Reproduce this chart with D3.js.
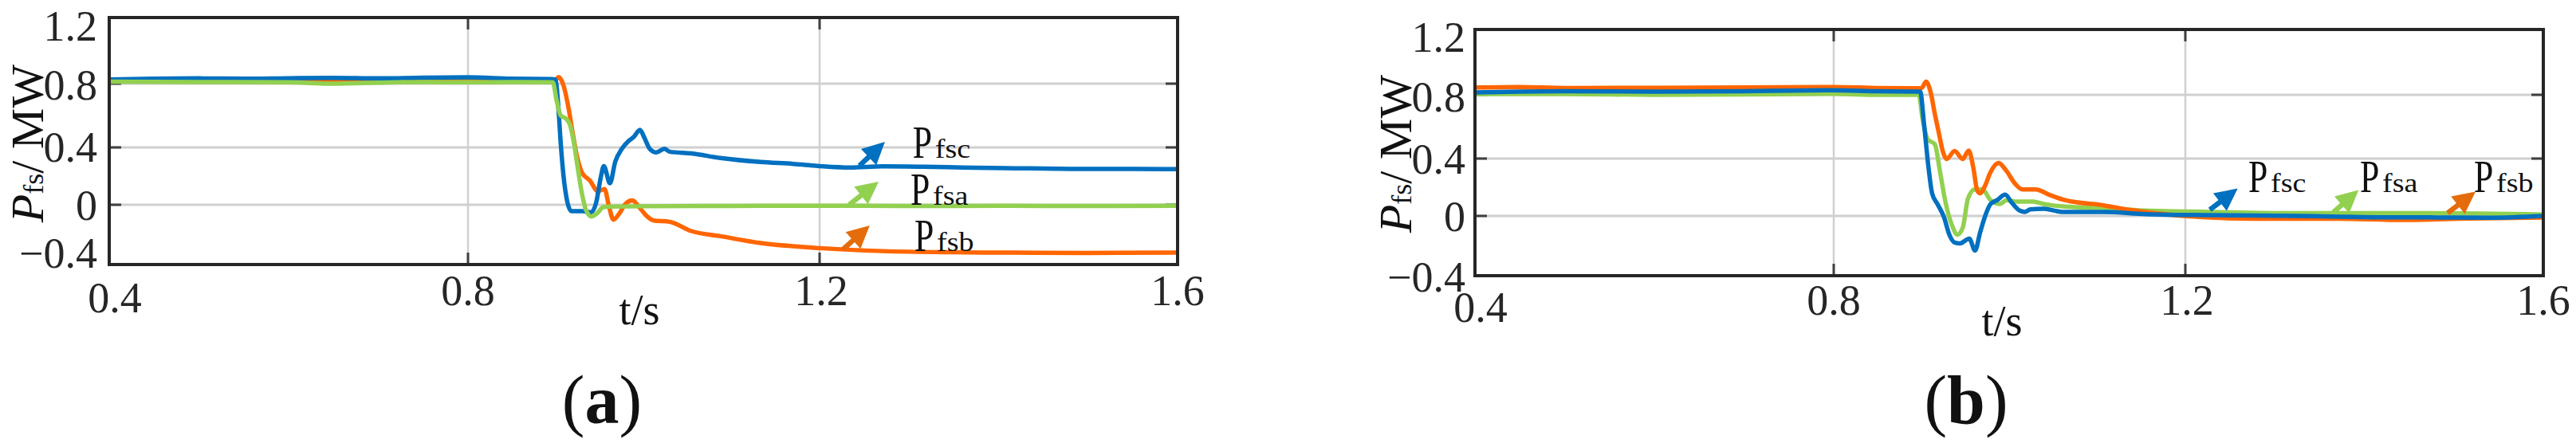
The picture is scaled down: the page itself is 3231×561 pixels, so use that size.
<!DOCTYPE html>
<html><head><meta charset="utf-8">
<script src="https://cdn.jsdelivr.net/npm/d3@7"></script>
<style>body{margin:0;background:#fff}svg{display:block}</style>
</head><body><svg id="c" width="3231" height="561" font-family="'Liberation Serif', 'Times New Roman', 'DejaVu Serif', serif"></svg>
<script>
// ---------- data ----------
const xTicks = [0.4, 0.8, 1.2, 1.6];
const xTickLabels = ["0.4", "0.8", "1.2", "1.6"];
const yTicks = [-0.4, 0, 0.4, 0.8, 1.2];
const yTickLabels = ["\u22120.4", "0", "0.4", "0.8", "1.2"];
const seriesNames = ["fsa", "fsb", "fsc"];
const xTitle = "t/s";
const panelNames = ["a", "b"];

// panel (a) series: [t (s), P (MW)]
const a_fsc = [[0.40,0.825],[0.45,0.83],[0.50,0.832],[0.55,0.83],[0.60,0.833],[0.65,0.835],[0.70,0.832],[0.75,0.836],[0.80,0.838],[0.85,0.83],[0.895,0.828],[0.8995,0.825],[0.9025,0.675],[0.9055,0.425],[0.9086,0.205],[0.913,0.02],[0.9176,-0.043],[0.93,-0.043],[0.94,-0.05],[0.946,0.02],[0.951,0.19],[0.9545,0.27],[0.9615,0.15],[0.9675,0.30],[0.975,0.39],[0.9826,0.44],[0.9887,0.466],[0.9956,0.51],[1.0007,0.46],[1.0068,0.39],[1.0143,0.365],[1.0234,0.39],[1.0295,0.37],[1.054,0.358],[1.087,0.326],[1.133,0.298],[1.17,0.285],[1.2,0.27],[1.234,0.26],[1.27,0.268],[1.316,0.265],[1.36,0.26],[1.407,0.255],[1.45,0.253],[1.5,0.25],[1.55,0.25],[1.6,0.248]];
const a_fsb = [[0.40,0.82],[0.5,0.82],[0.6,0.818],[0.7,0.815],[0.8,0.82],[0.85,0.818],[0.899,0.82],[0.9031,0.84],[0.9086,0.79],[0.9146,0.64],[0.9191,0.49],[0.9236,0.35],[0.9297,0.224],[0.9388,0.168],[0.9478,0.094],[0.9554,0.11],[0.96,0.0],[0.9654,-0.1],[0.972,-0.06],[0.9796,0.01],[0.9871,0.03],[0.9947,-0.016],[1.0038,-0.078],[1.0113,-0.105],[1.0295,-0.114],[1.054,-0.176],[1.087,-0.21],[1.133,-0.256],[1.2,-0.29],[1.27,-0.31],[1.35,-0.318],[1.407,-0.32],[1.5,-0.322],[1.6,-0.32]];
const a_fsa = [[0.40,0.812],[0.5,0.81],[0.6,0.808],[0.65,0.80],[0.7,0.806],[0.75,0.81],[0.8,0.808],[0.85,0.81],[0.8964,0.808],[0.901,0.69],[0.9055,0.6],[0.9116,0.58],[0.9161,0.54],[0.9206,0.425],[0.9252,0.243],[0.9297,0.076],[0.9342,-0.035],[0.9403,-0.078],[0.9463,-0.06],[0.9539,-0.016],[0.963,-0.012],[1.0,-0.01],[1.1,-0.008],[1.2,-0.006],[1.3,-0.008],[1.4,-0.007],[1.5,-0.008],[1.6,-0.006]];

// panel (b) series
const b_fsc = [[0.40,0.815],[0.45,0.82],[0.5,0.822],[0.6,0.82],[0.7,0.822],[0.75,0.826],[0.8,0.828],[0.85,0.822],[0.8983,0.82],[0.9028,0.613],[0.9074,0.36],[0.9119,0.158],[0.918,0.083],[0.9255,-0.009],[0.9315,-0.125],[0.9376,-0.178],[0.9436,-0.184],[0.9542,-0.152],[0.9608,-0.232],[0.9663,-0.116],[0.9723,0],[0.9784,0.083],[0.9859,0.11],[0.995,0.148],[1.0026,0.092],[1.0116,0.037],[1.0177,0.028],[1.0238,0.046],[1.0388,0.05],[1.051,0.037],[1.06,0.028],[1.107,0.028],[1.155,0.013],[1.227,0.005],[1.323,0.0],[1.419,-0.009],[1.48,-0.01],[1.54,-0.012],[1.6,0.0]];
const b_fsb = [[0.40,0.845],[0.45,0.848],[0.5,0.842],[0.6,0.843],[0.7,0.845],[0.8,0.848],[0.85,0.842],[0.8998,0.84],[0.905,0.88],[0.9104,0.813],[0.915,0.68],[0.9195,0.563],[0.924,0.447],[0.9285,0.397],[0.9376,0.447],[0.9467,0.397],[0.9536,0.45],[0.9587,0.34],[0.9633,0.176],[0.9663,0.158],[0.9723,0.213],[0.9784,0.306],[0.9875,0.37],[0.9966,0.313],[1.0056,0.23],[1.0147,0.185],[1.0298,0.185],[1.045,0.148],[1.063,0.11],[1.107,0.074],[1.131,0.048],[1.155,0.028],[1.198,0.0],[1.275,-0.018],[1.371,-0.018],[1.443,-0.027],[1.515,-0.018],[1.6,-0.01]];
const b_fsa = [[0.40,0.805],[0.5,0.805],[0.6,0.8],[0.7,0.802],[0.8,0.806],[0.85,0.8],[0.8968,0.8],[0.901,0.65],[0.907,0.52],[0.915,0.49],[0.921,0.306],[0.927,0.1],[0.9345,-0.062],[0.9406,-0.125],[0.9467,-0.08],[0.9527,0.12],[0.9603,0.185],[0.9693,0.185],[0.9784,0.11],[0.989,0.083],[0.9966,0.11],[1.0086,0.1],[1.0268,0.1],[1.0388,0.083],[1.063,0.065],[1.107,0.055],[1.155,0.037],[1.227,0.028],[1.323,0.019],[1.467,0.019],[1.6,0.01]];

// annotation arrows (tail, tip) and label anchors, in data units
const a_arrows = {fsc:[[1.2445,0.272],[1.273,0.435]], fsa:[[1.233,0.0],[1.266,0.161]], fsb:[[1.226,-0.299],[1.256,-0.139]]};
const a_labels = {fsc:[1.304,0.33], fsa:[1.3016,0.0], fsb:[1.306,-0.31]};
const b_arrows = {fsc:[[1.2274,0.043],[1.2585,0.191]], fsa:[[1.3654,0.026],[1.3936,0.18]], fsb:[[1.4931,0.02],[1.5243,0.17]]};
const b_labels = {fsc:[1.2704,0.165], fsa:[1.3951,0.165], fsb:[1.5225,0.165]};

// ---------- style / layout ----------
const FONT = "'Liberation Serif', 'Times New Roman', 'DejaVu Serif', serif";
const lineColor = {fsc:"#0070C0", fsa:"#92D050", fsb:"#FF6600"};
const arrowColor = {fsc:"#0070C0", fsa:"#92D050", fsb:"#E46C0A"};

const panels = [
  {name:"a", data:{fsa:a_fsa,fsb:a_fsb,fsc:a_fsc}, order:["fsb","fsc","fsa"], arrows:a_arrows, labels:a_labels,
   xr:[137,587,1028,1477], yr:[332,257,185,105,22],
   yLabelX:122, yLabelDy:[-14,1,0,2,11], xLabelBase:383, xTitlePos:[802,407], capPos:[755,531], yTitlePos:[54,180]},
  {name:"b", data:{fsa:b_fsa,fsb:b_fsb,fsc:b_fsc}, order:["fsa","fsb","fsc"], arrows:b_arrows, labels:b_labels,
   xr:[1850,2300,2741,3190], yr:[346,271,199,119,37],
   yLabelX:1838, yLabelDy:[2,1,1,2.5,10], xLabelBase:395, xTitlePos:[2511,421], capPos:[2466,531], yTitlePos:[1770,193]}
];

const svg = d3.select("#c");
const FS = 54;

function arrow(g, p1, p2, color){
  const dx=p2[0]-p1[0], dy=p2[1]-p1[1], L=Math.hypot(dx,dy);
  const ux=dx/L, uy=dy/L, nx=-uy, ny=ux;
  const hl=28, hw=14, sw=3.2;
  const bx=p2[0]-ux*hl, by=p2[1]-uy*hl;
  const pts=[[p1[0]+nx*sw,p1[1]+ny*sw],[bx+nx*sw,by+ny*sw],[bx+nx*hw,by+ny*hw],p2,[bx-nx*hw,by-ny*hw],[bx-nx*sw,by-ny*sw],[p1[0]-nx*sw,p1[1]-ny*sw]];
  g.append("polygon").attr("points",pts.map(p=>p.join(",")).join(" ")).attr("fill",color);
}

panels.forEach((P,pi)=>{
  const x = d3.scaleLinear().domain(xTicks).range(P.xr);
  const y = d3.scaleLinear().domain(yTicks).range(P.yr);
  const g = svg.append("g").attr("font-family",FONT);
  const x0=P.xr[0], x1=P.xr[3], y0=P.yr[4], y1=P.yr[0];

  // grid
  g.selectAll(".gx").data(xTicks.slice(1,-1)).join("line")
    .attr("x1",d=>x(d)).attr("x2",d=>x(d)).attr("y1",y0).attr("y2",y1)
    .attr("stroke","#d0d0d0").attr("stroke-width",2.5);
  g.selectAll(".gy").data(yTicks.slice(1,-1)).join("line")
    .attr("x1",x0).attr("x2",x1).attr("y1",d=>y(d)).attr("y2",d=>y(d))
    .attr("stroke","#d0d0d0").attr("stroke-width",3);

  // inner ticks
  const tk = g.append("g").attr("stroke","#404040").attr("stroke-width",3);
  xTicks.forEach(v=>{
    tk.append("line").attr("x1",x(v)).attr("x2",x(v)).attr("y1",y0).attr("y2",y0+15);
    tk.append("line").attr("x1",x(v)).attr("x2",x(v)).attr("y1",y1).attr("y2",y1-15);
  });
  yTicks.forEach(v=>{
    tk.append("line").attr("x1",x0).attr("x2",x0+15).attr("y1",y(v)).attr("y2",y(v));
    tk.append("line").attr("x1",x1).attr("x2",x1-15).attr("y1",y(v)).attr("y2",y(v));
  });

  // lines
  const clipId = "clip"+pi;
  svg.append("clipPath").attr("id",clipId).append("rect")
    .attr("x",x0).attr("y",y0-6).attr("width",x1-x0).attr("height",y1-y0+12);
  const line = d3.line().x(d=>x(d[0])).y(d=>y(d[1])).curve(d3.curveMonotoneX);
  const lg = g.append("g").attr("clip-path",`url(#${clipId})`);
  P.order.forEach(s=>{
    lg.append("path").datum(P.data[s]).attr("d",line)
      .attr("fill","none").attr("stroke",lineColor[s]).attr("stroke-width",5.5)
      .attr("stroke-linejoin","round").attr("stroke-linecap","round");
  });

  // frame
  g.append("rect").attr("x",x0).attr("y",y0).attr("width",x1-x0).attr("height",y1-y0)
    .attr("fill","none").attr("stroke","#262626").attr("stroke-width",4);

  // tick labels
  yTicks.forEach((v,i)=>{
    g.append("text").attr("x",P.yLabelX).attr("y",y(v)+P.yLabelDy[i]+FS*0.34)
      .attr("text-anchor","end").attr("font-size",FS).attr("fill","#262626").text(yTickLabels[i]);
  });
  xTicks.forEach((v,i)=>{
    g.append("text").attr("x",x(v)+(i===0?7:(i===2?2:0))).attr("y",P.xLabelBase+(i===0?9:0))
      .attr("text-anchor","middle").attr("font-size",FS).attr("fill","#262626").text(xTickLabels[i]);
  });

  // x title
  g.append("text").attr("x",P.xTitlePos[0]).attr("y",P.xTitlePos[1])
    .attr("text-anchor","middle").attr("font-size",FS).attr("fill","#111").text(xTitle);

  // y title
  const yt = g.append("text").attr("transform",`translate(${P.yTitlePos[0]},${P.yTitlePos[1]}) rotate(-90)`)
    .attr("text-anchor","middle").attr("font-size",58).attr("fill","#111");
  yt.append("tspan").attr("font-style","italic").text("P");
  yt.append("tspan").attr("font-size",36).text("fs");
  yt.append("tspan").text("/ MW");

  // annotations
  seriesNames.forEach(s=>{
    const a = P.arrows[s];
    arrow(g,[x(a[0][0]),y(a[0][1])],[x(a[1][0]),y(a[1][1])],arrowColor[s]);
    const L = P.labels[s];
    const lx = x(L[0]), ly = y(L[1]);
    g.append("text").attr("transform",`translate(${lx},${ly}) scale(0.78,1)`)
      .attr("font-size",56).attr("fill","#111").text("P");
    g.append("text").attr("transform",`translate(${lx+28},${ly}) scale(1.12,1)`)
      .attr("font-size",34).attr("fill","#111").text(s);
  });

  // caption
  const cap = g.append("text").attr("x",P.capPos[0]).attr("y",P.capPos[1])
    .attr("text-anchor","middle").attr("font-size",86).attr("fill","#111");
  cap.append("tspan").text("(");
  cap.append("tspan").attr("font-weight","bold").text(P.name);
  cap.append("tspan").text(")");
});
</script></body></html>
